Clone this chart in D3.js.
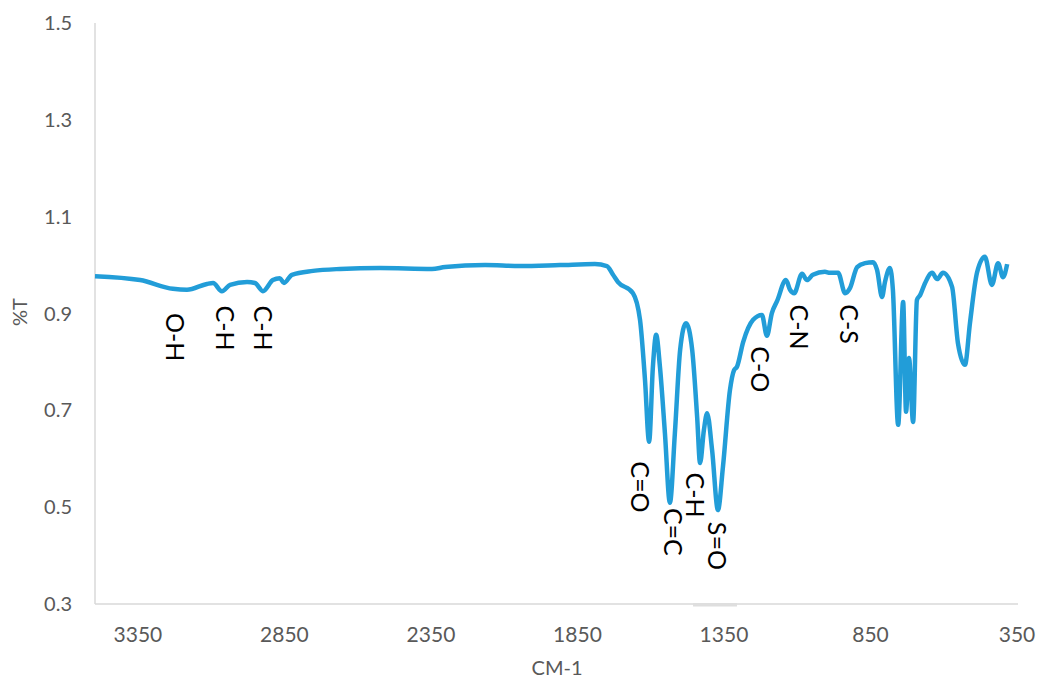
<!DOCTYPE html>
<html>
<head>
<meta charset="utf-8">
<script src="https://cdn.jsdelivr.net/npm/d3@7"></script>
<style>
    body { margin: 0; background: #fff; }
    #chart-area { width: 1043px; height: 686px; }
    .tick-label { font-family: Lato, "Open Sans", sans-serif; fill: #595959; }
    .band-label { font-family: Lato, "Open Sans", sans-serif; fill: #000; }
</style>
</head>
<body>
<div id="chart-area"></div>
<script>

// spectrum (wavenumber in cm-1, %T)
let wavenumbers = [3500, 3346, 3234, 3186, 3118, 3097, 3067, 3039, 2981, 2954, 2927, 2893, 2869, 2855, 2828,
    2756, 2664, 2527, 2350, 2305, 2169, 2050, 1913, 1794, 1753, 1732, 1715, 1664, 1640, 1623, 1609, 1596, 1585,
    1572, 1555, 1538, 1521, 1503, 1483, 1462, 1445, 1435, 1422, 1411, 1394, 1374, 1357, 1333, 1319, 1309, 1288,
    1254, 1224, 1207, 1190, 1172, 1142, 1128, 1114, 1087, 1070, 1050, 1009, 992, 964, 940, 923, 899, 872, 845,
    831, 814, 804, 787, 777, 759, 742, 732, 722, 708, 695, 684, 667, 643, 626, 606, 575, 555, 531, 514, 490,
    463, 439, 418, 401, 387];

let transmittance = [0.977, 0.969, 0.951, 0.949, 0.961, 0.963, 0.946, 0.959, 0.965, 0.963, 0.946, 0.969, 0.973,
    0.963, 0.980, 0.988, 0.992, 0.994, 0.992, 0.996, 1.000, 0.998, 1.000, 1.002, 0.998, 0.980, 0.965, 0.942,
    0.887, 0.763, 0.635, 0.790, 0.856, 0.790, 0.653, 0.509, 0.653, 0.825, 0.880, 0.825, 0.686, 0.591, 0.659,
    0.694, 0.618, 0.494, 0.583, 0.742, 0.783, 0.790, 0.841, 0.887, 0.897, 0.854, 0.901, 0.926, 0.969, 0.949,
    0.942, 0.982, 0.969, 0.980, 0.986, 0.984, 0.984, 0.942, 0.953, 0.996, 1.004, 1.006, 0.990, 0.934, 0.965,
    0.994, 0.949, 0.670, 0.924, 0.697, 0.808, 0.676, 0.928, 0.938, 0.963, 0.984, 0.971, 0.984, 0.955, 0.839,
    0.794, 0.880, 0.984, 1.017, 0.959, 1.004, 0.975, 1.002];

// band assignments, placed at (wavenumber, %T) of the label centre
let bandNames = ["O-H", "C-H", "C-H", "C=O", "C=C", "C-H", "S=O", "C-O", "C-N", "C-S"];
let bandWn = [3227, 3056, 2927, 1640, 1527, 1452, 1377, 1230, 1097, 927];
let bandT = [0.851, 0.870, 0.870, 0.542, 0.449, 0.525, 0.420, 0.785, 0.872, 0.878];

let xTicks = [3350, 2850, 2350, 1850, 1350, 850, 350];
let yTicks = [0.3, 0.5, 0.7, 0.9, 1.1, 1.3, 1.5];

let margin = {top: 23, right: 25, bottom: 82, left: 95};
let width = 1043 - margin.left - margin.right;
let height = 686 - margin.top - margin.bottom;

let svg = d3.select("#chart-area").append("svg")
    .attr("width", 1043)
    .attr("height", 686);

let g = svg.append("g")
    .attr("transform", `translate(${margin.left}, ${margin.top})`);

// reversed wavenumber axis
let x = d3.scaleLinear()
    .domain([3500, 350])
    .range([0, width]);

let y = d3.scaleLinear()
    .domain([0.3, 1.5])
    .range([height, 0]);

// axis lines
g.append("line")
    .attr("x1", 0).attr("x2", 0)
    .attr("y1", 0).attr("y2", height)
    .attr("stroke", "#d9d9d9")
    .attr("stroke-width", 1.5);

g.append("line")
    .attr("x1", 0).attr("x2", width)
    .attr("y1", height).attr("y2", height)
    .attr("stroke", "#d9d9d9")
    .attr("stroke-width", 1.5);

// little grey mark under the axis near 1350
g.append("rect")
    .attr("x", x(1459))
    .attr("y", height - 1)
    .attr("width", x(1309) - x(1459))
    .attr("height", 3.5)
    .attr("fill", "#dedede");

// tick labels
g.selectAll(".x-tick")
    .data(xTicks)
    .enter()
    .append("text")
    .attr("class", "tick-label x-tick")
    .attr("x", d => x(d) - 1)
    .attr("y", height + 38)
    .attr("text-anchor", "middle")
    .style("font-size", "21px")
    .text(d => d);

g.selectAll(".y-tick")
    .data(yTicks)
    .enter()
    .append("text")
    .attr("class", "tick-label y-tick")
    .attr("x", -23)
    .attr("y", d => y(d))
    .attr("dy", "0.35em")
    .attr("text-anchor", "end")
    .style("font-size", "20px")
    .text(d => d.toFixed(1));

// axis titles
svg.append("text")
    .attr("class", "tick-label")
    .attr("x", 557)
    .attr("y", 675)
    .attr("text-anchor", "middle")
    .style("font-size", "20px")
    .text("CM-1");

svg.append("text")
    .attr("class", "tick-label")
    .attr("transform", "translate(27, 312) rotate(-90)")
    .attr("text-anchor", "middle")
    .style("font-size", "20px")
    .text("%T");

// spectrum line
let spectrum = wavenumbers.map((d, i) => ({wn: d, t: transmittance[i]}));

let line = d3.line()
    .x(d => x(d.wn))
    .y(d => y(d.t))
    .curve(d3.curveMonotoneX);

g.append("path")
    .datum(spectrum)
    .attr("d", line)
    .attr("fill", "none")
    .attr("stroke", "#229dd8")
    .attr("stroke-width", 4.5)
    .attr("stroke-linejoin", "round");

// band labels, written top to bottom
let bands = bandNames.map((d, i) => ({name: d, wn: bandWn[i], t: bandT[i]}));

g.selectAll(".band-label")
    .data(bands)
    .enter()
    .append("text")
    .attr("class", "band-label")
    .attr("transform", d => `translate(${x(d.wn)}, ${y(d.t)}) rotate(90)`)
    .attr("text-anchor", "middle")
    .attr("dy", "0.35em")
    .style("font-size", "25px")
    .text(d => d.name);

</script>
</body>
</html>
